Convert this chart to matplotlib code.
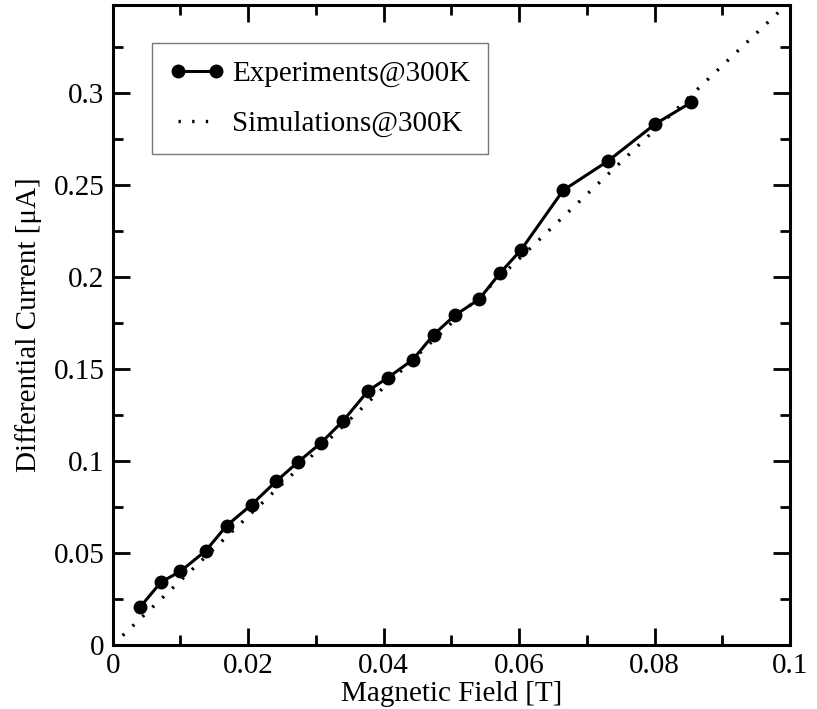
#!/usr/bin/env python

import matplotlib as mpl
mpl.use('Agg')
import matplotlib.pyplot as plt
from matplotlib.ticker import MultipleLocator, FuncFormatter


field_exp = [0.0040, 0.0071, 0.0100, 0.0137, 0.0168, 0.0205, 0.0241, 0.0273,
             0.0307, 0.0340, 0.0377, 0.0406, 0.0443, 0.0474, 0.0505, 0.0541,
             0.0572, 0.0603, 0.0665, 0.0731, 0.0801, 0.0854]
current_exp = [0.0204, 0.0341, 0.0401, 0.0511, 0.0648, 0.0763, 0.0889, 0.0993,
               0.1097, 0.1218, 0.1382, 0.1453, 0.1551, 0.1688, 0.1792, 0.1880,
               0.2023, 0.2149, 0.2472, 0.2631, 0.2833, 0.2950]

field_sim = [0.0, 0.1]
current_sim = [0.0, 0.35]

plt.rcParams['font.family'] = ['Liberation Serif', 'DejaVu Serif']
plt.rcParams['font.size'] = 21

fig = plt.figure(figsize=(8.17, 7.09), dpi=100)
ax = fig.add_axes([0.138, 0.0903, 0.829, 0.9027])

ax.plot(field_exp, current_exp, color='black', lw=2.2, marker='o', ms=9,
        label='Experiments@300K')
ax.plot(field_sim, current_sim, color='black', lw=2.4, linestyle=(0, (0.7, 3.4)),
        label='Simulations@300K')

ax.set_xlim(0, 0.1)
ax.set_ylim(0, 0.348)

ax.xaxis.set_major_locator(MultipleLocator(0.02))
ax.xaxis.set_minor_locator(MultipleLocator(0.01))
ax.yaxis.set_major_locator(MultipleLocator(0.05))
ax.yaxis.set_minor_locator(MultipleLocator(0.025))
fmt = FuncFormatter(lambda v, pos: '%g' % round(v, 4))
ax.xaxis.set_major_formatter(fmt)
ax.yaxis.set_major_formatter(fmt)

ax.tick_params(which='both', direction='in', top=True, right=True, width=2)
ax.tick_params(which='major', length=12, pad=6)
ax.tick_params(which='minor', length=7)
for s in ax.spines.values():
    s.set_linewidth(2.2)

ax.set_xlabel('Magnetic Field [T]', labelpad=1)
ax.set_ylabel('Differential Current [μA]', labelpad=8)

leg = ax.legend(loc='upper left', bbox_to_anchor=(0.0576, 0.9406), numpoints=2,
                handlelength=1.9, handletextpad=0.25, borderpad=0.6,
                labelspacing=0.8, fancybox=False, framealpha=1,
                borderaxespad=0)
leg.get_frame().set_edgecolor('#777777')
leg.get_frame().set_linewidth(1.0)

fig.savefig('out.png', dpi=100)
